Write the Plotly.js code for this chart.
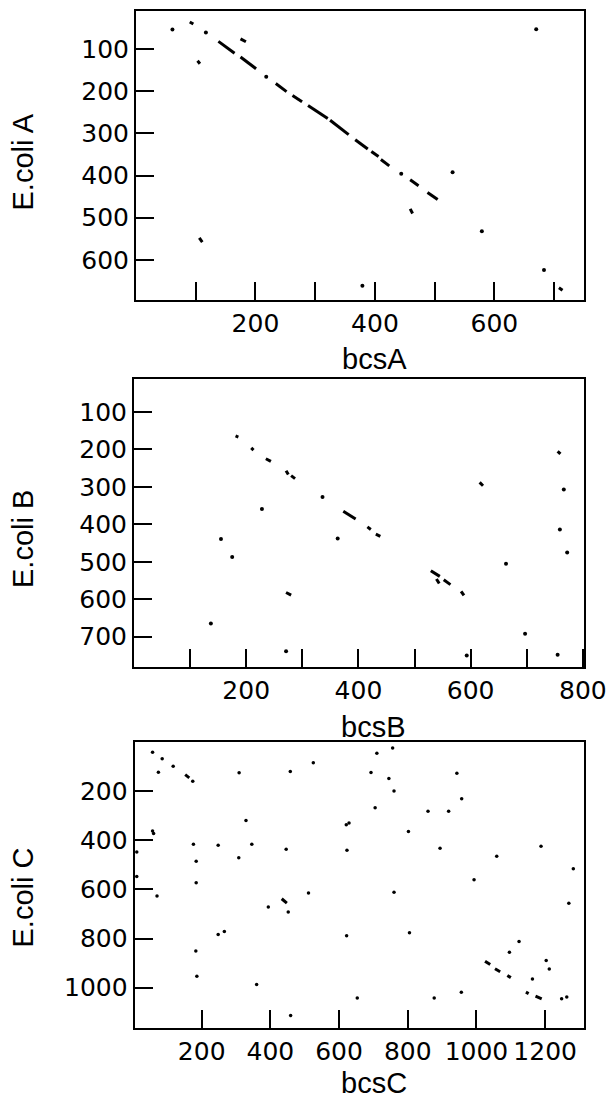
<!DOCTYPE html>
<html>
<head>
<meta charset="utf-8">
<script src="https://cdn.plot.ly/plotly-3.0.1.min.js"></script>
<style>html,body{margin:0;padding:0;background:#fff;}#chart{width:612px;height:1105px;}</style>
</head>
<body>
<div id="chart"></div>
<script>
// ---------- Panel A : E.coli A vs bcsA ----------
const aDotX = [61, 117, 218, 444, 530, 579, 670, 379, 683];
const aDotY = [54, 61, 166, 396, 392, 532, 53, 661, 624];
const aSegX0 = [90, 103, 175, 138, 175, 234, 262, 288, 325, 367, 394, 410, 459, 488, 459, 106, 708];
const aSegY0 = [36, 128, 76, 82, 119, 182, 210, 234, 269, 315, 343, 362, 410, 440, 479, 548, 666];
const aSegX1 = [96, 107, 184, 165, 201, 252, 278, 321, 356, 388, 406, 424, 473, 505, 463, 111, 714];
const aSegY1 = [41, 135, 83, 110, 147, 201, 225, 265, 303, 337, 355, 377, 424, 457, 490, 558, 672];
const aXTicks = [100, 200, 300, 400, 500, 600, 700];
const aXLabels = ['', '200', '', '400', '', '600', ''];
const aYTicks = [100, 200, 300, 400, 500, 600];

// ---------- Panel B : E.coli B vs bcsB ----------
const bDotX = [336, 228, 155, 175, 363, 663, 137, 697, 271, 593, 766, 759, 772, 755];
const bDotY = [327, 359, 439, 487, 438, 505, 665, 692, 739, 750, 307, 414, 475, 748];
const bSegX0 = [181, 209, 235, 271, 280, 373, 416, 431, 529, 539, 552, 583, 616, 271, 755];
const bSegY0 = [164, 196, 225, 257, 270, 365, 407, 426, 524, 546, 548, 579, 288, 582, 205];
const bSegX1 = [186, 213, 244, 275, 287, 395, 422, 439, 545, 544, 564, 588, 622, 280, 760];
const bSegY1 = [167, 202, 232, 267, 278, 386, 414, 432, 539, 558, 561, 590, 297, 589, 212];
const bXTicks = [100, 200, 300, 400, 500, 600, 700, 800];
const bXLabels = ['', '200', '', '400', '', '600', '', '800'];
const bYTicks = [100, 200, 300, 400, 500, 600, 700];

// ---------- Panel C : E.coli C vs bcsC ----------
const cDotX = [57, 85, 74, 117, 174, 309, 458, 525, 329, 57, 60, 11, 11, 176, 248, 346, 446, 308, 184, 184, 70, 394, 452, 511, 248, 266, 183, 186, 360, 459, 710, 756, 693, 745, 760, 705, 943, 957, 859, 919, 621, 629, 802, 894, 623, 1188, 1059, 1282, 993, 760, 1269, 622, 805, 1124, 1096, 1203, 1212, 1163, 1248, 1263, 653, 877, 956];
const cDotY = [42, 68, 123, 99, 160, 125, 120, 84, 319, 362, 372, 448, 547, 416, 420, 416, 437, 471, 485, 573, 627, 672, 692, 615, 783, 771, 851, 953, 987, 1113, 46, 24, 124, 149, 199, 268, 127, 231, 282, 282, 337, 330, 364, 432, 441, 424, 465, 516, 561, 611, 656, 789, 776, 812, 856, 889, 924, 965, 1045, 1038, 1042, 1042, 1019];
const cSegX0 = [152, 433, 1025, 1054, 1090, 1144, 1172];
const cSegY0 = [133, 638, 892, 923, 950, 1018, 1034];
const cSegX1 = [164, 448, 1040, 1069, 1100, 1152, 1190];
const cSegY1 = [146, 656, 906, 935, 959, 1024, 1045];
const cXTicks = [200, 400, 600, 800, 1000, 1200];
const cYTicks = [200, 400, 600, 800, 1000];

// ---------- Titles ----------
const xTitles = ['bcsA', 'bcsB', 'bcsC'];
const yTitles = ['E.coli A', 'E.coli B', 'E.coli C'];

function segTrace(x0, y0, x1, y1, xa, ya) {
  const xs = [], ys = [];
  for (let i = 0; i < x0.length; i++) {
    xs.push(x0[i], x1[i], null);
    ys.push(y0[i], y1[i], null);
  }
  return {x: xs, y: ys, xaxis: xa, yaxis: ya, mode: 'lines', type: 'scatter',
          line: {color: '#000', width: 3}, connectgaps: false, hoverinfo: 'skip', showlegend: false};
}
function dotTrace(x, y, xa, ya, s) {
  return {x: x, y: y, xaxis: xa, yaxis: ya, mode: 'markers', type: 'scatter',
          marker: {color: '#000', size: s}, hoverinfo: 'skip', showlegend: false};
}

const data = [
  segTrace(aSegX0, aSegY0, aSegX1, aSegY1, 'x', 'y'),
  dotTrace(aDotX, aDotY, 'x', 'y', 4),
  segTrace(bSegX0, bSegY0, bSegX1, bSegY1, 'x2', 'y2'),
  dotTrace(bDotX, bDotY, 'x2', 'y2', 4),
  segTrace(cSegX0, cSegY0, cSegX1, cSegY1, 'x3', 'y3'),
  dotTrace(cDotX, cDotY, 'x3', 'y3', 3.5)
];

const W = 612, H = 1105;
const tickFont = {family: 'DejaVu Sans', size: 25, color: '#000'};
const titleFont = {family: 'Liberation Sans, Arial, sans-serif', size: 29, color: '#000'};
function axBase() {
  return {showline: true, mirror: true, linewidth: 2, linecolor: '#000',
          ticks: 'inside', ticklen: 18, tickwidth: 2, tickcolor: '#000',
          showgrid: false, zeroline: false, tickfont: tickFont, fixedrange: true};
}
function xd(l, r) { return [l / W, r / W]; }
function yd(t, b) { return [1 - b / H, 1 - t / H]; }

// title centres in pixels
const xTitlePos = [[374, 359], [373, 727], [374, 1083]];
const yTitlePos = [[22.5, 162], [23, 539], [22.5, 898]];
const annotations = [];
for (let i = 0; i < 3; i++) {
  annotations.push({text: xTitles[i], xref: 'paper', yref: 'paper',
    x: xTitlePos[i][0] / W, y: 1 - xTitlePos[i][1] / H, xanchor: 'center', yanchor: 'middle',
    showarrow: false, font: titleFont});
  annotations.push({text: yTitles[i], xref: 'paper', yref: 'paper', textangle: -90,
    x: yTitlePos[i][0] / W, y: 1 - yTitlePos[i][1] / H, xanchor: 'center', yanchor: 'middle',
    showarrow: false, font: titleFont});
}

const layout = {
  width: W, height: H,
  margin: {l: 0, r: 0, t: 0, b: 0},
  paper_bgcolor: '#fff', plot_bgcolor: '#fff',
  showlegend: false,
  annotations: annotations,
  xaxis: Object.assign(axBase(), {domain: xd(136, 584), range: [0, 750], anchor: 'y',
    tickmode: 'array', tickvals: aXTicks, ticktext: aXLabels}),
  yaxis: Object.assign(axBase(), {domain: yd(11, 300), range: [695, 10], anchor: 'x',
    tickmode: 'array', tickvals: aYTicks, ticktext: aYTicks.map(String)}),
  xaxis2: Object.assign(axBase(), {domain: xd(134, 584), range: [0, 802], anchor: 'y2',
    tickmode: 'array', tickvals: bXTicks, ticktext: bXLabels}),
  yaxis2: Object.assign(axBase(), {domain: yd(379, 667), range: [781, 12], anchor: 'x2',
    tickmode: 'array', tickvals: bYTicks, ticktext: bYTicks.map(String)}),
  xaxis3: Object.assign(axBase(), {domain: xd(134.7, 584.3), range: [5, 1314], anchor: 'y3',
    tickmode: 'array', tickvals: cXTicks, ticktext: cXTicks.map(String)}),
  yaxis3: Object.assign(axBase(), {domain: yd(742, 1028), range: [1164, 0], anchor: 'x3',
    tickmode: 'array', tickvals: cYTicks, ticktext: cYTicks.map(String)})
};

Plotly.newPlot('chart', data, layout, {displayModeBar: false, staticPlot: true});
</script>
</body>
</html>
